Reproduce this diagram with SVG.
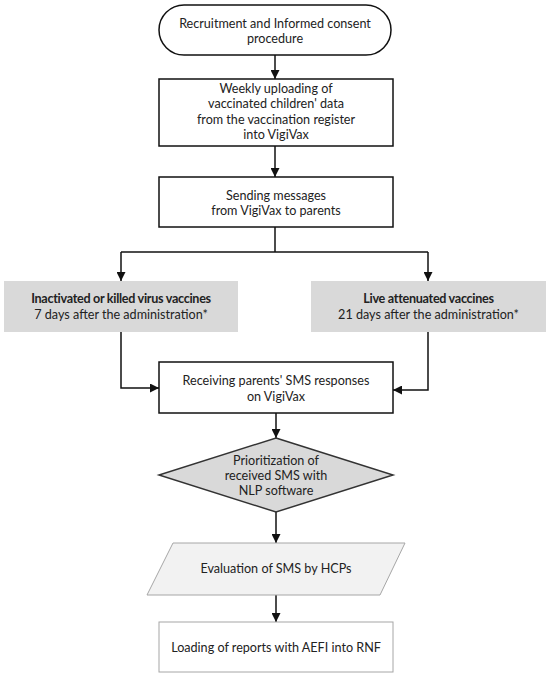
<svg xmlns="http://www.w3.org/2000/svg" width="550" height="678" viewBox="0 0 550 678">
<defs>
<style>
text{font-family:Lato,"Open Sans","Liberation Sans",sans-serif;font-size:12.6px;fill:#222;text-anchor:middle;dominant-baseline:central}
.b{font-weight:bold;letter-spacing:-0.3px}
.box{fill:#fff;stroke:#111;stroke-width:1.5}
.gray{fill:#d9d9d9;stroke:none}
.light{fill:#f2f2f2;stroke:#a6a6a6;stroke-width:1}
.lbox{fill:#fff;stroke:#a6a6a6;stroke-width:1}
.dia{fill:#d9d9d9;stroke:#333;stroke-width:1.5}
.c{fill:none;stroke:#111;stroke-width:1.5}
</style>
<marker id="ah" viewBox="0 0 10 10" refX="10" refY="5" markerWidth="9" markerHeight="9" markerUnits="userSpaceOnUse" orient="auto">
<path d="M0,0 L10,5 L0,10 z" fill="#111"/>
</marker>
</defs>
<g id="connectors">
<path class="c" d="M275,55 V79" marker-end="url(#ah)"/>
<path class="c" d="M275,146 V177" marker-end="url(#ah)"/>
<path class="c" d="M275,227 V252"/>
<path class="c" d="M121,252 H428"/>
<path class="c" d="M121,252 V281" marker-end="url(#ah)"/>
<path class="c" d="M428,252 V281" marker-end="url(#ah)"/>
<path class="c" d="M121,332 V388 H159" marker-end="url(#ah)"/>
<path class="c" d="M428,332 V390 H393" marker-end="url(#ah)"/>
<path class="c" d="M276,413 V438" marker-end="url(#ah)"/>
<path class="c" d="M276,512 V543" marker-end="url(#ah)"/>
<path class="c" d="M276,595 V622" marker-end="url(#ah)"/>
</g>
<g id="n1">
<rect class="box" x="159" y="5" width="232" height="50" rx="25" ry="25"/>
<text x="275" y="23">Recruitment and Informed consent</text>
<text x="275" y="38">procedure</text>
</g>
<g id="n2">
<rect class="box" x="159" y="79" width="234" height="67"/>
<text x="276" y="88">Weekly uploading of</text>
<text x="276" y="103.5">vaccinated children' data</text>
<text x="276" y="119">from the vaccination register</text>
<text x="276" y="134.5">into VigiVax</text>
</g>
<g id="n3">
<rect class="box" x="159" y="177" width="234" height="50"/>
<text x="276" y="195">Sending messages</text>
<text x="276" y="210.5">from VigiVax to parents</text>
</g>
<g id="n4">
<rect class="gray" x="4" y="281" width="234" height="51"/>
<text class="b" x="121" y="298.5">Inactivated or killed virus vaccines</text>
<text x="121" y="314">7 days after the administration*</text>
</g>
<g id="n5">
<rect class="gray" x="311" y="281" width="235" height="51"/>
<text class="b" x="428.5" y="298.5">Live attenuated vaccines</text>
<text x="428.5" y="314">21 days after the administration*</text>
</g>
<g id="n6">
<rect class="box" x="159" y="362" width="234" height="51"/>
<text x="276" y="380.5">Receiving parents' SMS responses</text>
<text x="276" y="396">on VigiVax</text>
</g>
<g id="n7">
<polygon class="dia" points="276,438 393,475 276,512 159,475"/>
<text x="276" y="460">Prioritization of</text>
<text x="276" y="475">received SMS with</text>
<text x="276" y="490">NLP software</text>
</g>
<g id="n8">
<polygon class="light" points="173,543 405,543 380,595 147,595"/>
<text x="276" y="568.5">Evaluation of SMS by HCPs</text>
</g>
<g id="n9">
<rect class="lbox" x="159" y="622" width="234" height="50"/>
<text x="276" y="647">Loading of reports with AEFI into RNF</text>
</g>
</svg>
